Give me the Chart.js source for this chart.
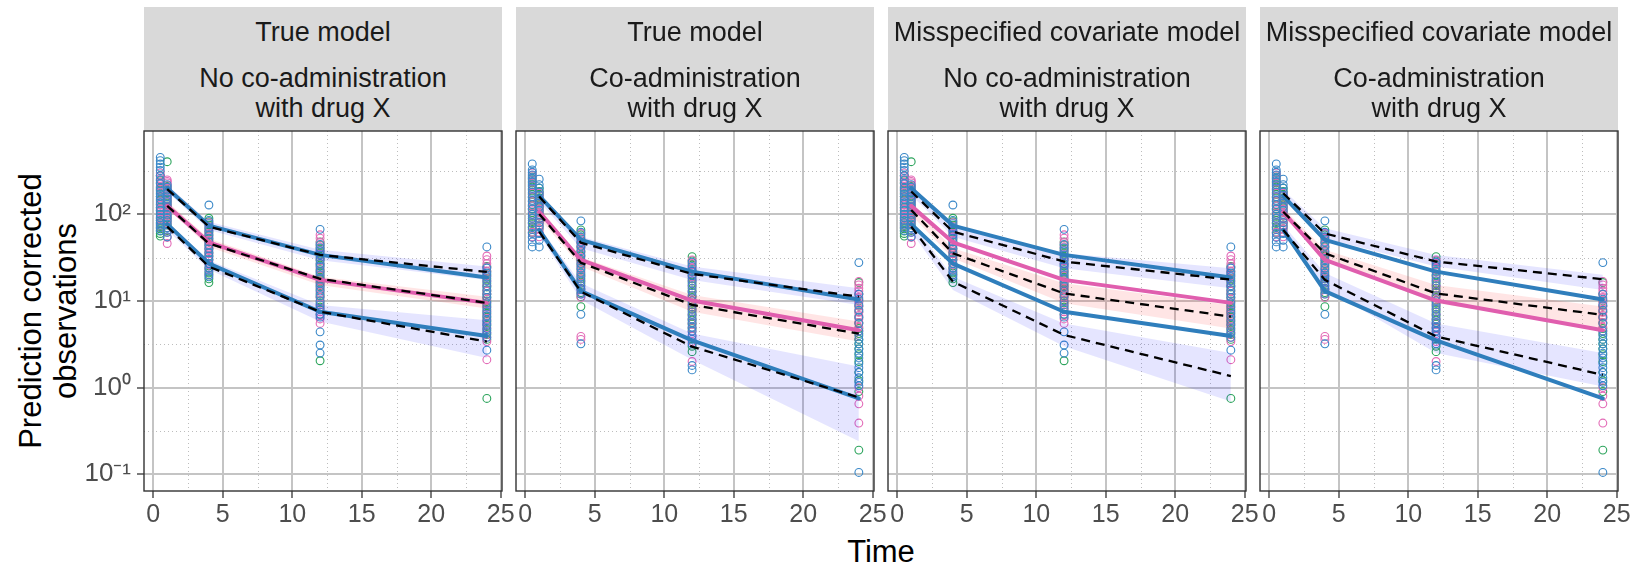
<!DOCTYPE html>
<html><head><meta charset="utf-8">
<script src="https://cdn.jsdelivr.net/npm/chart.js@4.4.0/dist/chart.umd.min.js"></script>
<style>
html,body{margin:0;padding:0;background:#fff;}
#root{position:relative;width:1632px;height:567px;overflow:hidden;font-family:"Liberation Sans",Arial,Helvetica,sans-serif;background:#fff;}
.strip{position:absolute;top:7px;height:124px;background:#D9D9D9;}
.st{position:absolute;left:0;width:100%;text-align:center;font-size:27px;line-height:27px;color:#1A1A1A;white-space:nowrap;}
canvas{position:absolute;}
.ytitle{position:absolute;width:400px;height:70px;font-size:31px;line-height:35px;text-align:center;color:#000;transform:rotate(-90deg);transform-origin:50% 50%;white-space:nowrap;}
.xtitle{position:absolute;width:400px;font-size:31px;line-height:31px;text-align:center;color:#000;}
</style></head><body><div id="root"></div>
<script>
// ---------- data ----------
const xTicks = [0, 5, 10, 15, 20, 25];
const xMinor = [2.5, 7.5, 12.5, 17.5, 22.5];
const yTicks = [0.1, 1, 10, 100];
const yTickLabels = ['10⁻¹', '10⁰', '10¹', '10²'];
const yMinor = [0.3162, 3.162, 31.62, 316.2];
const stripTitle = ['True model', 'True model', 'Misspecified covariate model', 'Misspecified covariate model'];
const stripSub1 = ['No co-administration', 'Co-administration', 'No co-administration', 'Co-administration'];
const stripSub2 = ['with drug X', 'with drug X', 'with drug X', 'with drug X'];
const obsTimes = [0.5, 1, 4, 12, 24];
const binTimes = [1, 4, 12, 24];

// observed points (group A: no co-administration, group B: co-administration), one list per time
const greenA = [[280,245,230,205,190,175,160,145,130,120,110,100,90,84,78,72,68,64,60,56],[404,210,195,180,160,145,135,125,115,105,97,90,82,75,70,65],[90,82,75,68,62,57,52,48,44,40,36,33,30,27,24,21,18,16.3],[48,44,40,36,32,29,26,23,21,19,18,16.5,15,13.5,12,11,9.5,8.5,7,2.04],[25,22,20,18,16,14.5,13,12,11,10,9,8,7.2,6.5,5.8,5.2,4.6,4.1,3.6,0.75]];
const blueA  = [[454,415,380,350,320,280,250,225,200,185,170,160,150,135,120,110,100,92,85,80,75,70,65],[220,205,190,175,160,150,140,130,120,110,100,92,85,77,70,62,55],[128,85,78,70,64,58,53,48,44,40,36,33,30,27,24,22,20,19],[67,45,41,38,34,30,27,25,22,20,18,16,14.5,13,11.5,10,9,8,7,6.5,4.4,3.1,2.5],[42,24,21,19,17,15,13.5,12,11,9.5,8.5,7.5,6.7,6,5.4,4.8,4.3,3.8,2.7]];
const pinkA  = [[300,275,260,235,210,195,180,160,140,128,115,105,95,88,80,75,70],[249,240,230,215,200,185,170,160,150,140,130,120,110,102,95,88,80,70,62,54,46],[80,72,65,60,55,50,45,41,38,35,32,29,26,23,20],[58,53,47,42,38,34,30,27,24,22,19.5,17,15.5,14,12.5,11,10,9,8.2,7.5,6.8,6.2,5.5],[33,30,27,24.5,22,19.5,17,15,13,12,10.5,9.5,8.5,7.7,7,6.2,5.5,4.9,4.3,3.8,3.4,2.1]];
const greenB = [[270,250,230,210,190,170,155,140,125,115,105,95,85,78,72,67,62],[200,183,170,155,142,130,122,115,105,95,88,80,74,68],[66,58,52,47,42,37,33,29,26,23,20,18,16,14,12.5,11.2,8.6],[32.5,29,26,23,20,18,16,14,12.5,11,9.5,8.5,7.5,6.7,6,5.4,4.8,3.0,2.6],[16.3,12,10,8.7,7.5,6.5,5.6,4.8,4.2,3.6,3.2,2.8,2.4,2,1.5,1.2,0.9,0.19]];
const blueB  = [[381,325,305,285,260,240,220,200,180,160,145,130,115,100,90,80,70,60,54,48,42],[254,220,200,180,165,150,135,122,110,100,90,80,72,60,50,42],[84,62,55,48,43,38,34,30,27,24,21,19,17,15,13.5,12,7,3.2],[28,25,22,19.5,17,15,13,11.5,10,9,8,7,6.2,5.6,5,4.5,4,3.6,3.2,1.8,1.6],[27.7,12,10.5,9,7.8,6.5,5.5,4.5,4,3.6,3.2,2.8,2.5,2.2,1.9,1.7,1.5,1.3,1.15,1.05,0.105]];
const pinkB  = [[300,280,260,235,215,195,175,158,140,125,110,100,90,80,70,62,55],[175,162,150,137,125,115,105,96,88,81,75,68,62,55],[60,53,46,41,36,32,28,25,22,19.5,17,15,13.5,12,11,3.9,3.6],[29.7,27,24,21.5,19,17,15,13,11.5,10.2,9,8,7,6.2,5.5,4.9,4.4,3.9,3.4,2.0],[16.8,15.3,14,13,12,11,10.2,9.5,8.7,8,7.4,6.8,6.2,5.6,5,4.5,1.0,0.8,0.65,0.39]];

// observed percentiles
const obsP95A = [200, 74, 34, 18.6];
const obsP50A = [125, 47.5, 17.5, 9.5];
const obsP05A = [77, 27, 7.5, 3.95];
const obsP95B = [163, 50.6, 21.8, 10.4];
const obsP50B = [107, 29.7, 10.1, 4.6];
const obsP05B = [66, 13, 3.5, 0.75];

// simulated percentiles per panel
const simP95 = [[195,72,34,21.6],[160,47,20.5,11.2],[183,63,28.5,17.6],[175,60,28.5,17.8]];
const simP50 = [[125,46,18,9.5],[101,27.6,9,4.2],[112,35.5,12.2,6.6],[107,35.5,12.2,6.9]];
const simP05 = [[72,24.9,7.5,3.4],[63,12.8,2.97,0.77],[72,16.7,4.05,1.36],[66,17.5,3.9,1.4]];

// confidence bands per panel
const bandP95Lo = [[182,66,29.5,17.4],[140,40.6,17.5,9],[167,55,23.8,14],[153,52.5,25,13.4]];
const bandP95Hi = [[218,82,39,25],[174,55,25,14],[209,72,35.5,23.8],[191,69,34,20]];
const bandP50Lo = [[117,42,15.3,8.2],[90,25,7.5,3.4],[98,31,9.4,4.8],[94,29.7,9.4,4.8]];
const bandP50Hi = [[140,52.7,19,11.2],[117,32,11.7,5.8],[126,40.6,16,9],[117,39,15.3,8.6]];
const bandP05Lo = [[66,23,5.8,2.2],[58,10.3,2.1,0.24],[63,13.4,3,0.69],[58,14,2.5,1.03]];
const bandP05Hi = [[82,29.5,9,6],[72,16,4.2,1.75],[82,19,5.5,2.5],[75,21,5.5,2.5]];

// ---------- style / layout ----------
const FONT = '"Liberation Sans", Arial, Helvetica, sans-serif';
Chart.defaults.font.family = FONT;
const panelLeft = [144, 516, 888, 1260];
const panelW = 358, plotTop = 131, plotH = 360;
const C_PT_BLUE = '#3A88C8', C_PT_PINK = '#E36BB7', C_PT_GREEN = '#2CA45C';
const C_LN_BLUE = '#2F7EBC', C_LN_PINK = '#E05EAE';
const BAND_BLUE = 'rgba(0,0,255,0.1)', BAND_PINK = 'rgba(255,0,0,0.1)';

const root = document.getElementById('root');

const yt = document.createElement('div');
yt.className = 'ytitle';
yt.style.left = (48.4 - 200) + 'px';
yt.style.top = (311 - 35) + 'px';
yt.innerHTML = 'Prediction corrected<br>observations';
root.appendChild(yt);

const xt = document.createElement('div');
xt.className = 'xtitle';
xt.style.left = (881 - 200) + 'px';
xt.style.top = '536px';
xt.textContent = 'Time';
root.appendChild(xt);

const decor = {
  id: 'decor',
  beforeDatasetsDraw(chart) {
    const {ctx, chartArea: a, scales: {x, y}} = chart;
    ctx.save();
    ctx.strokeStyle = '#BDBDBD';
    ctx.lineWidth = 1;
    ctx.setLineDash([1, 3]);
    xMinor.forEach(v => {
      const px = Math.round(x.getPixelForValue(v)) + 0.5;
      ctx.beginPath(); ctx.moveTo(px, a.top); ctx.lineTo(px, a.bottom); ctx.stroke();
    });
    yMinor.forEach(v => {
      const py = Math.round(y.getPixelForValue(v)) + 0.5;
      ctx.beginPath(); ctx.moveTo(a.left, py); ctx.lineTo(a.right, py); ctx.stroke();
    });
    ctx.restore();
  },
  afterDraw(chart) {
    const {ctx, chartArea: a} = chart;
    ctx.save();
    ctx.strokeStyle = '#333333';
    ctx.lineWidth = 1.4;
    ctx.strokeRect(a.left, a.top, a.right - a.left, a.bottom - a.top);
    ctx.restore();
  }
};

const mk = (xs, ys) => xs.map((x, i) => ({x, y: ys[i]}));
const colPts = cols => cols.flatMap((vals, j) => vals.map(v => ({x: obsTimes[j], y: v})));

for (let p = 0; p < 4; p++) {
  const L = panelLeft[p];
  const strip = document.createElement('div');
  strip.className = 'strip';
  strip.style.left = L + 'px';
  strip.style.width = panelW + 'px';
  [[stripTitle[p], 11.85], [stripSub1[p], 58.45], [stripSub2[p], 88.45]].forEach(([t, top]) => {
    const d = document.createElement('div');
    d.className = 'st';
    d.style.top = top + 'px';
    d.textContent = t;
    strip.appendChild(d);
  });
  root.appendChild(strip);

  const yW = p === 0 ? 144 : 0, padL = p === 0 ? 0 : 30, padR = 30, padT = 20, xH = 80;
  const W = padL + yW + panelW + padR, H = padT + plotH + xH;
  const cv = document.createElement('canvas');
  cv.width = W; cv.height = H;
  cv.style.left = (L - yW - padL) + 'px';
  cv.style.top = (plotTop - padT) + 'px';
  cv.style.width = W + 'px'; cv.style.height = H + 'px';
  root.appendChild(cv);

  const A = p % 2 === 0;
  const ptsBlue = A ? blueA : blueB, ptsPink = A ? pinkA : pinkB, ptsGreen = A ? greenA : greenB;
  const o95 = A ? obsP95A : obsP95B, o50 = A ? obsP50A : obsP50B, o05 = A ? obsP05A : obsP05B;

  const ds = [];
  [[ptsBlue, C_PT_BLUE], [ptsPink, C_PT_PINK], [ptsGreen, C_PT_GREEN]].forEach(([arr, c]) => {
    ds.push({type: 'scatter', data: colPts(arr), showLine: false, pointRadius: 3.9, pointBorderWidth: 1.1,
      pointBorderColor: c, pointBackgroundColor: 'rgba(0,0,0,0)', order: 4});
  });
  [[bandP95Lo[p], bandP95Hi[p], BAND_BLUE], [bandP50Lo[p], bandP50Hi[p], BAND_PINK], [bandP05Lo[p], bandP05Hi[p], BAND_BLUE]].forEach(([lo, hi, c]) => {
    const li = ds.length;
    ds.push({type: 'line', data: mk(binTimes, lo), borderWidth: 0, borderColor: 'rgba(0,0,0,0)', pointRadius: 0, fill: false, tension: 0, order: 3});
    ds.push({type: 'line', data: mk(binTimes, hi), borderWidth: 0, borderColor: 'rgba(0,0,0,0)', pointRadius: 0, fill: {target: li}, backgroundColor: c, tension: 0, order: 3});
  });
  [[o95, C_LN_BLUE], [o50, C_LN_PINK], [o05, C_LN_BLUE]].forEach(([v, c]) => {
    ds.push({type: 'line', data: mk(binTimes, v), borderColor: c, borderWidth: 4, pointRadius: 0, fill: false, tension: 0, order: 2, borderCapStyle: 'round', borderJoinStyle: 'round'});
  });
  [simP95[p], simP50[p], simP05[p]].forEach(v => {
    ds.push({type: 'line', data: mk(binTimes, v), borderColor: '#000', borderWidth: 2.3, borderDash: [9, 6], pointRadius: 0, fill: false, tension: 0, order: 1});
  });

  new Chart(cv, {
    type: 'scatter',
    data: {datasets: ds},
    plugins: [decor],
    options: {
      responsive: false, animation: false, devicePixelRatio: 1, events: [],
      layout: {padding: {left: padL, right: padR, top: padT, bottom: 0}, autoPadding: false},
      plugins: {legend: {display: false}, tooltip: {enabled: false}},
      scales: {
        x: {
          type: 'linear', min: -0.67, max: 25.09,
          afterBuildTicks: s => { s.ticks = xTicks.map(v => ({value: v})); },
          afterFit: s => { s.height = xH; s.paddingLeft = 0; s.paddingRight = 0; },
          ticks: {font: {size: 25}, color: '#4D4D4D', padding: 2, maxRotation: 0, autoSkip: false, callback: v => String(v)},
          grid: {color: '#C4C4C4', lineWidth: 2, tickColor: '#333333', tickWidth: 1.3, tickLength: 7, drawTicks: true},
          border: {display: false}
        },
        y: {
          type: 'logarithmic', min: 0.0641, max: 914,
          afterBuildTicks: s => { s.ticks = yTicks.map(v => ({value: v})); },
          afterFit: s => { s.width = yW; s.paddingTop = 0; s.paddingBottom = 0; },
          ticks: {display: p === 0, font: {size: 26}, color: '#4D4D4D', padding: 6, autoSkip: false,
            callback: v => yTickLabels[yTicks.indexOf(v)]},
          grid: {color: '#C4C4C4', lineWidth: 2, tickColor: '#333333', tickWidth: 1.3, tickLength: 7, drawTicks: p === 0},
          border: {display: false}
        }
      }
    }
  });
}
</script>
</body></html>
